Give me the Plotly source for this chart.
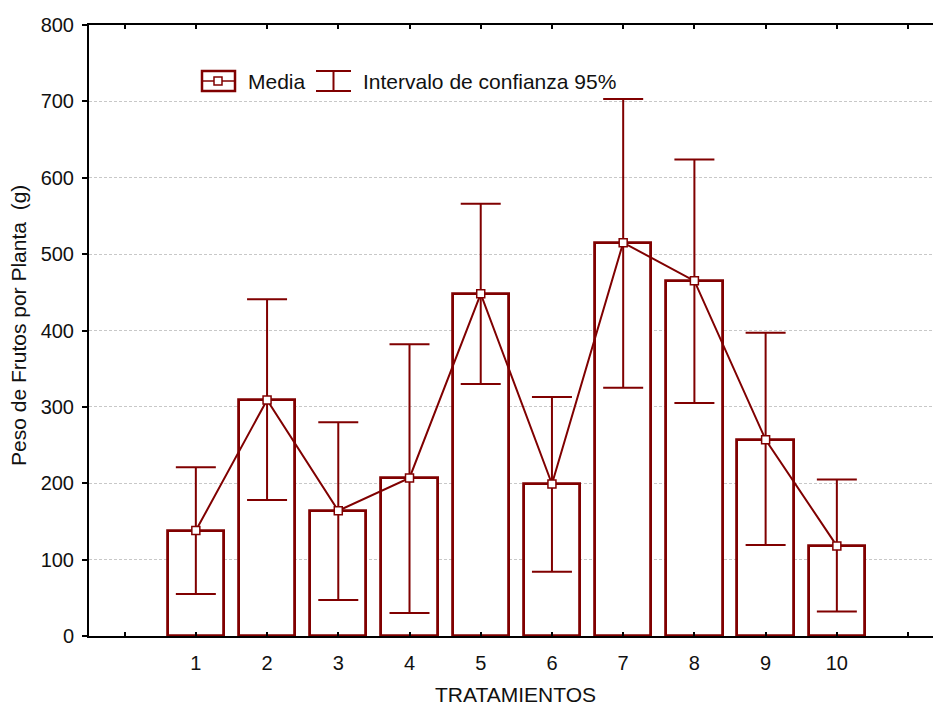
import plotly.graph_objects as go

# ---- data ----
tratamientos = [1, 2, 3, 4, 5, 6, 7, 8, 9, 10]
media = [138, 309, 164, 207, 448, 199, 515, 465, 257, 118]
ic_sup = [221, 441, 280, 382, 566, 313, 703, 624, 397, 205]
ic_inf = [55, 178, 47, 30, 330, 84, 325, 305, 119, 32]
x_tickvals = [0, 1, 2, 3, 4, 5, 6, 7, 8, 9, 10, 11]
x_ticktext = ["", "1", "2", "3", "4", "5", "6", "7", "8", "9", "10", ""]
y_tickvals = [0, 100, 200, 300, 400, 500, 600, 700, 800]

RED = "#800000"
FONT = "Liberation Sans, Arial, sans-serif"

W, H = 933, 706
L, R, T, B = 89, 0, 25, 70
PW, PH = W - L - R, H - T - B


def px(x):
    return (x - L) / PW


def py(y):
    return (H - B - y) / PH


err_plus = [u - m for u, m in zip(ic_sup, media)]
err_minus = [m - l for m, l in zip(media, ic_inf)]

fig = go.Figure()
fig.add_trace(go.Bar(
    x=tratamientos, y=media, width=0.79,
    marker=dict(color="white", line=dict(color=RED, width=2.8)),
    showlegend=False, hoverinfo="skip"))
fig.add_trace(go.Scatter(
    x=tratamientos, y=media, mode="lines+markers",
    line=dict(color=RED, width=2),
    marker=dict(symbol="square", size=8, color="white",
                line=dict(color=RED, width=1.5)),
    error_y=dict(type="data", symmetric=False, array=err_plus,
                 arrayminus=err_minus, color=RED, thickness=2, width=20),
    showlegend=False))

shapes = []
# legend symbol: Media
shapes.append(dict(type="rect", xref="paper", yref="paper",
                   x0=px(202), x1=px(235), y0=py(71), y1=py(91),
                   line=dict(color=RED, width=2.5), fillcolor="white"))
shapes.append(dict(type="line", xref="paper", yref="paper",
                   x0=px(202), x1=px(235), y0=py(81), y1=py(81),
                   line=dict(color=RED, width=1.5)))
shapes.append(dict(type="rect", xref="paper", yref="paper",
                   x0=px(214), x1=px(222), y0=py(77), y1=py(85),
                   line=dict(color=RED, width=1.5), fillcolor="white"))
# legend symbol: intervalo
shapes.append(dict(type="line", xref="paper", yref="paper",
                   x0=px(316), x1=px(351), y0=py(71), y1=py(71),
                   line=dict(color=RED, width=2)))
shapes.append(dict(type="line", xref="paper", yref="paper",
                   x0=px(316), x1=px(351), y0=py(91), y1=py(91),
                   line=dict(color=RED, width=2)))
shapes.append(dict(type="line", xref="paper", yref="paper",
                   x0=px(333.5), x1=px(333.5), y0=py(71), y1=py(91),
                   line=dict(color=RED, width=2)))

annotations = [
    dict(text="Media", xref="paper", yref="paper", x=px(246), y=py(81),
         xanchor="left", yanchor="middle", showarrow=False,
         font=dict(size=21, color="#111", family=FONT)),
    dict(text="Intervalo de confianza 95%", xref="paper", yref="paper",
         x=px(361), y=py(81), xanchor="left", yanchor="middle", showarrow=False,
         font=dict(size=21, color="#111", family=FONT)),
    dict(text="TRATAMIENTOS", xref="paper", yref="paper", x=px(515), y=py(694),
         xanchor="center", yanchor="middle", showarrow=False,
         font=dict(size=21, color="#111", family=FONT)),
    dict(text="Peso de Frutos por Planta  (g)", xref="paper", yref="paper",
         x=px(18), y=py(326), xanchor="center", yanchor="middle",
         showarrow=False, textangle=-90,
         font=dict(size=21, color="#111", family=FONT)),
]

fig.update_layout(
    width=W, height=H,
    margin=dict(l=L, r=R, t=T, b=B, autoexpand=False),
    paper_bgcolor="white", plot_bgcolor="white",
    font=dict(family=FONT, size=19, color="#111"),
    shapes=shapes, annotations=annotations,
    bargap=0,
    xaxis=dict(range=[-0.5, 11.35], tickmode="array", tickvals=x_tickvals,
               ticktext=x_ticktext, ticks="inside", ticklen=4, tickwidth=2,
               tickcolor="black", showline=True, linecolor="black",
               linewidth=2, mirror="ticks", showgrid=False, zeroline=False,
               ticklabelstandoff=8, tickfont=dict(size=20)),
    yaxis=dict(range=[0, 800], tickmode="array", tickvals=y_tickvals,
               ticks="outside", ticklen=5, tickwidth=1.5, tickcolor="black",
               showline=True, linecolor="black", linewidth=2,
               showgrid=True, gridcolor="#c8c8c8", gridwidth=1,
               griddash="3px,2px", zeroline=False, ticklabelstandoff=4,
               tickfont=dict(size=20)),
)

fig.write_html("out.html",
               config={"displayModeBar": False},
               post_script="document.body.style.margin='0';"
                           "document.body.style.overflow='hidden';")
